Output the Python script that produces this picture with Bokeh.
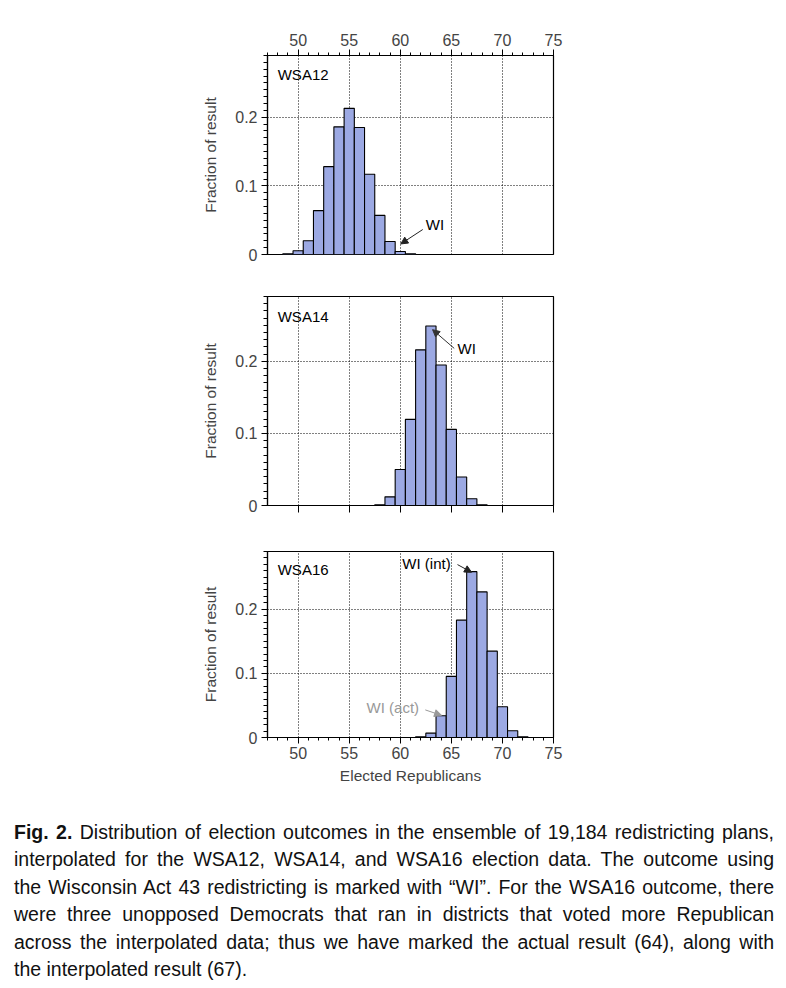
from bokeh.plotting import figure
from bokeh.layouts import column
from bokeh.models import FixedTicker, Label, Arrow, NormalHead, Range1d, Div
from bokeh.embed import file_html
from bokeh.resources import INLINE

# ---------------- data ----------------
seats_12 = [49, 50, 51, 52, 53, 54, 55, 56, 57, 58, 59, 60, 61]
frac_12 = [0.001, 0.0054, 0.020, 0.064, 0.128, 0.186, 0.213, 0.185, 0.117, 0.057, 0.019, 0.0044, 0.001]

seats_14 = [58, 59, 60, 61, 62, 63, 64, 65, 66, 67, 68]
frac_14 = [0.001, 0.012, 0.050, 0.1195, 0.216, 0.249, 0.195, 0.1056, 0.0395, 0.0093, 0.001]

seats_16 = [62, 63, 64, 65, 66, 67, 68, 69, 70, 71, 72]
frac_16 = [0.001, 0.0068, 0.034, 0.0953, 0.183, 0.2586, 0.227, 0.1346, 0.048, 0.0105, 0.001]

panel_names = ["WSA12", "WSA14", "WSA16"]
wi_12 = 60
wi_14 = 63
wi_16_int = 67
wi_16_act = 64

x_major = [50, 55, 60, 65, 70, 75]
x_minor = list(range(47, 76))
x_grid = [50, 55, 60, 65, 70]
y_major = [0, 0.1, 0.2]
y_labels = ["0", "0.1", "0.2"]
y_minor = [round(0.01 * i, 2) for i in range(0, 30)]
y_grid = [0.1, 0.2]

FONT = "Liberation Sans"
BAR = "#9CA9E3"


def make_panel(seats, fracs, name, frame_h, border_top, border_bottom, mode):
    p = figure(frame_width=286, frame_height=frame_h,
               x_range=Range1d(47, 75), y_range=Range1d(0, 0.29),
               x_axis_location="above" if mode == "top" else "below",
               output_backend="svg", toolbar_location=None,
               min_border_left=267, min_border_right=40,
               min_border_top=border_top, min_border_bottom=border_bottom)
    p.background_fill_color = "white"
    p.border_fill_color = "white"
    p.outline_line_color = "black"
    p.outline_line_width = 1.2
    p.outline_line_alpha = 1

    # grid
    p.xgrid.ticker = FixedTicker(ticks=x_grid)
    p.ygrid.ticker = FixedTicker(ticks=y_grid)
    for g in (p.xgrid, p.ygrid):
        g.grid_line_color = "black"
        g.grid_line_dash = "1 2"
        g.grid_line_width = 1

    p.vbar(x=seats, top=fracs, width=1, bottom=0,
           fill_color=BAR, line_color="black", line_width=1.1)

    # y axis
    ya = p.yaxis[0]
    ya.ticker = FixedTicker(ticks=y_major, minor_ticks=y_minor)
    ya.major_label_overrides = {t: l for t, l in zip(y_major, y_labels)}
    ya.axis_label = "Fraction of result"
    ya.axis_label_text_font = FONT
    ya.axis_label_text_font_size = "15.5px"
    ya.axis_label_text_font_style = "normal"
    ya.axis_label_standoff = 13
    ya.major_label_text_font = FONT
    ya.major_label_text_font_size = "16px"
    ya.major_label_standoff = 4
    ya.major_tick_in = 0
    ya.major_tick_out = 6
    ya.minor_tick_in = 0
    ya.minor_tick_out = 4
    ya.axis_line_color = "black"
    ya.axis_line_width = 1.2
    ya.major_tick_line_color = "black"
    ya.minor_tick_line_color = "black"

    xa = p.xaxis[0]
    xa.axis_line_color = "black"
    xa.axis_line_width = 1.2
    xa.major_tick_line_color = "black"
    xa.minor_tick_line_color = "black"
    xa.major_label_text_font = FONT
    xa.major_label_text_font_size = "16px"
    xa.major_tick_in = 0
    xa.minor_tick_in = 0
    if mode == "middle":
        xa.ticker = FixedTicker(ticks=x_major)
        xa.major_tick_out = 7
        xa.minor_tick_out = 0
        xa.major_label_overrides = {t: "" for t in x_major}
        xa.major_label_standoff = 0
    else:
        xa.ticker = FixedTicker(ticks=x_major, minor_ticks=x_minor)
        xa.major_tick_out = 6
        xa.minor_tick_out = 3
        xa.major_label_standoff = 4 if mode == "top" else 3
    if mode == "bottom":
        xa.axis_label = "Elected Republicans"
        xa.axis_label_text_font = FONT
        xa.axis_label_text_font_size = "15.5px"
        xa.axis_label_text_font_style = "normal"
        xa.axis_label_standoff = 5

    p.add_layout(Label(x=48.0, y=0.262, text=name, text_font=FONT,
                       text_font_size="15px", text_baseline="middle",
                       text_align="left", text_color="black"))
    return p


def add_arrow(p, tail, head, color):
    p.add_layout(Arrow(end=NormalHead(size=7, fill_color=color, line_color=color, line_width=1),
                       x_start=tail[0], y_start=tail[1], x_end=head[0], y_end=head[1],
                       line_color=color, line_width=1))


def add_text(p, x, y, text, color):
    p.add_layout(Label(x=x, y=y, text=text, text_font=FONT, text_font_size="15px",
                       text_baseline="middle", text_align="left", text_color=color))


h12 = dict(zip(seats_12, frac_12))
h14 = dict(zip(seats_14, frac_14))
h16 = dict(zip(seats_16, frac_16))

p1 = make_panel(seats_12, frac_12, panel_names[0], 199, 55, 21, "top")
add_arrow(p1, (wi_12 + 2.2, h12[wi_12] + 0.032), (wi_12 + 0.05, h12[wi_12] + 0.011), "#222222")
add_text(p1, wi_12 + 2.5, h12[wi_12] + 0.040, "WI", "black")

p2 = make_panel(seats_14, frac_14, panel_names[1], 209, 21, 23, "middle")
add_arrow(p2, (wi_14 + 2.28, h14[wi_14] - 0.031), (wi_14 + 0.16, h14[wi_14] - 0.005), "#333333")
add_text(p2, wi_14 + 2.6, h14[wi_14] - 0.031, "WI", "black")

p3 = make_panel(seats_16, frac_16, panel_names[2], 186, 23, 62, "bottom")
add_arrow(p3, (wi_16_int - 1.4, h16[wi_16_int] + 0.011), (wi_16_int - 0.02, h16[wi_16_int] - 0.001), "#222222")
add_text(p3, wi_16_int - 6.8, h16[wi_16_int] + 0.0125, "WI (int)", "black")
add_arrow(p3, (wi_16_act - 1.55, h16[wi_16_act] + 0.009), (wi_16_act + 0.04, h16[wi_16_act] + 0.0005), "#999999")
add_text(p3, wi_16_act - 7.3, h16[wi_16_act] + 0.013, "WI (act)", "#999999")

caption_lines = [
    "<b>Fig. 2.</b> Distribution of election outcomes in the ensemble of 19,184 redistricting plans,",
    "interpolated for the WSA12, WSA14, and WSA16 election data. The outcome using",
    "the Wisconsin Act 43 redistricting is marked with \u201cWI\u201d. For the WSA16 outcome, there",
    "were three unopposed Democrats that ran in districts that voted more Republican",
    "across the interpolated data; thus we have marked the actual result (64), along with",
    "the interpolated result (67).",
]
rows = []
for i, line in enumerate(caption_lines):
    last = (i == len(caption_lines) - 1)
    align = "left" if last else "justify"
    rows.append('<div style="text-align:%s;text-align-last:%s;white-space:nowrap;">%s</div>' % (align, align, line))
caption_html = ('<div style="width:760px;font-family:\'Liberation Sans\',Arial,sans-serif;'
                'font-size:19.5px;line-height:27.4px;color:#111;">' + "".join(rows) + '</div>')
div = Div(text=caption_html, width=760, height=170, margin=(20, 0, 0, 14))

layout = column(p1, p2, p3, div, spacing=0)
open("out.html", "w").write(file_html(layout, INLINE))
